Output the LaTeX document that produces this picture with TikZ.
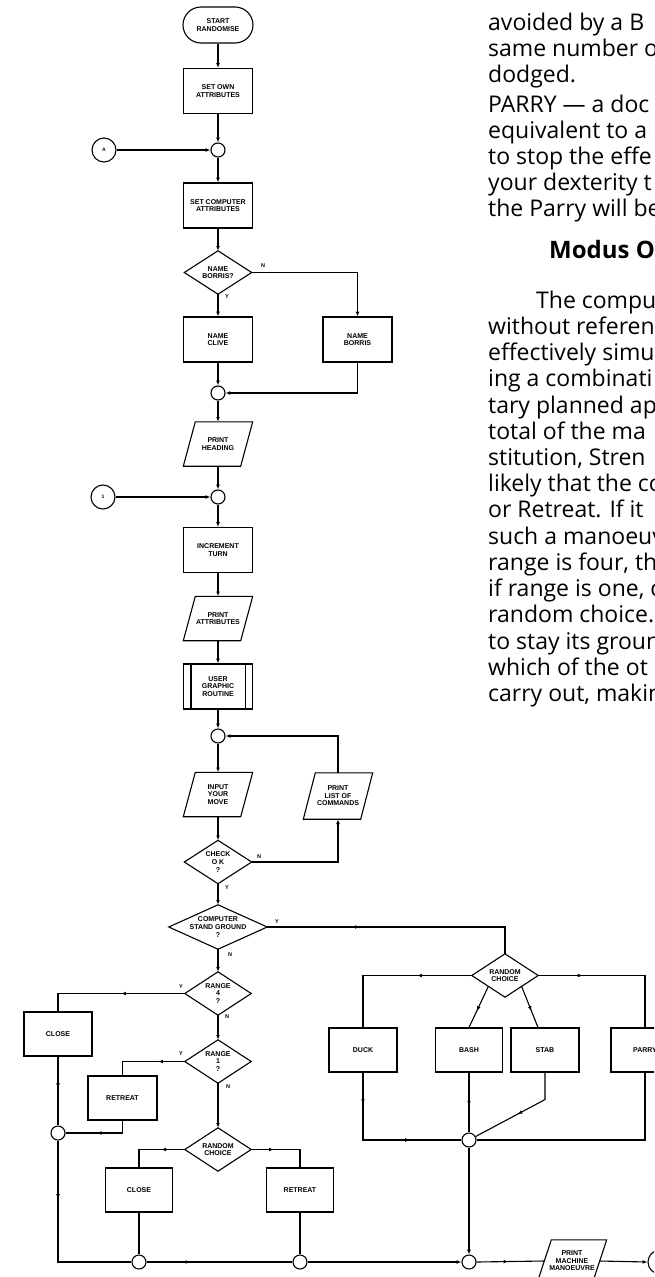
\documentclass[tikz,border=0pt]{standalone}
\usepackage{fontspec}
\setmainfont{Open Sans}
\newfontfamily\flowfam{Liberation Sans}
\usetikzlibrary{arrows.meta,decorations.markings,calc}
\tikzset{
  flow/.style={line width=1.1pt},
  arr/.style={flow,-{Latex[length=4.8pt,width=3.8pt]}},
  midarr/.style={flow,postaction={decorate},decoration={markings,mark=at position #1 with {\arrow{Latex[length=4.8pt,width=3.8pt]}}}},
  midarrtwo/.style 2 args={flow,postaction={decorate},decoration={markings,mark=at position #1 with {\arrow{Latex[length=4.8pt,width=3.8pt]}},mark=at position #2 with {\arrow{Latex[length=4.8pt,width=3.8pt]}}}},
  flowtxt/.style={font={\flowfam\bfseries\fontsize{7}{7.6}\selectfont},align=center},
  proc/.style={flowtxt,draw,line width=1.1pt,rectangle,minimum width=69pt,minimum height=45pt,inner sep=1pt},
  ghost/.style={flowtxt,rectangle,inner sep=1pt},
  dia/.style={ghost,minimum width=67pt,minimum height=43pt},
  para/.style={ghost,minimum width=57pt,minimum height=44pt},
  junc/.style={circle,draw,line width=1.1pt,minimum size=14pt,inner sep=0pt},
  conn/.style={circle,draw,line width=1.1pt,minimum size=24pt,inner sep=0pt,font={\flowfam\bfseries\fontsize{5}{5}\selectfont}},
  yn/.style={font={\flowfam\bfseries\fontsize{5.5}{5.5}\selectfont},inner sep=0pt},
  body/.style={anchor=base west,inner sep=0pt,font={\fontsize{23}{26}\selectfont}},
  head/.style={anchor=base west,inner sep=0pt,font={\bfseries\fontsize{24}{26}\selectfont}},
}
\begin{document}
\begin{tikzpicture}[x=1pt,y=-1pt]
\useasboundingbox (0,0) rectangle (654,1277);
\fill[white] (0,0) rectangle (654,1277);
\clip (0,0) rectangle (654,1277);

% ---------- nodes ----------
\node[proc,rounded corners=18pt,minimum height=36pt,minimum width=70pt] (start) at (218,25) {START\\RANDOMISE};
\node[proc] (setown) at (218,91) {SET OWN\\ATTRIBUTES};
\node[junc] (j1) at (218,150) {};
\node[conn] (ca) at (104,150) {A};
\node[proc] (setcomp) at (218,205.5) {SET COMPUTER\\ATTRIBUTES};
\node[dia] (q1) at (218,272.5) {NAME\\BORRIS?};
\node[proc] (clive) at (218,339.5) {NAME\\CLIVE};
\node[proc] (borris) at (357.5,339.5) {NAME\\BORRIS};
\node[junc] (j2) at (218,393) {};
\node[para] (headg) at (218,444) {PRINT\\HEADING};
\node[junc] (j3) at (218,497) {};
\node[conn] (c1) at (103,497) {1};
\node[proc] (incr) at (218,550) {INCREMENT\\TURN};
\node[para] (pattr) at (218,618.5) {PRINT\\ATTRIBUTES};
\node[proc] (ugr) at (218,686.5) {USER\\GRAPHIC\\ROUTINE};
\node[junc] (j4) at (218,736) {};
\node[para] (input) at (218,794.5) {INPUT\\YOUR\\MOVE};
\node[para,minimum height=46pt] (plist) at (338,796) {PRINT\\LIST OF\\COMMANDS};
\node[dia] (q2) at (218,862) {CHECK\\O K\\?};
\node[dia,minimum width=98pt,minimum height=44pt] (q3) at (218,927) {COMPUTER\\STAND GROUND\\?};
\node[dia,minimum width=66pt] (q4) at (218,993.5) {RANGE\\4\\?};
\node[dia,minimum width=66pt] (q5) at (218,1061.5) {RANGE\\1\\?};
\node[dia,minimum width=66pt] (q6) at (218,1149.5) {RANDOM\\CHOICE};
\node[proc,minimum width=68pt,minimum height=44pt] (close1) at (58,1034) {CLOSE};
\node[proc,minimum width=69pt,minimum height=44pt] (retreat1) at (122.5,1098) {RETREAT};
\node[junc] (jl) at (58,1133) {};
\node[proc,minimum width=67pt,minimum height=44pt] (close2) at (139,1190) {CLOSE};
\node[proc,minimum width=67pt,minimum height=44pt] (retreat2) at (300,1190) {RETREAT};
\node[junc] (jb1) at (139,1262) {};
\node[junc] (jb2) at (300,1262) {};
\node[junc] (jb3) at (469,1262) {};
\node[dia,minimum width=66pt] (q7) at (505,975.5) {RANDOM\\CHOICE};
\node[proc,minimum width=68pt,minimum height=44pt] (duck) at (363,1050) {DUCK};
\node[proc,minimum width=67pt,minimum height=44pt] (bash) at (469,1050) {BASH};
\node[proc,minimum width=68pt,minimum height=44pt] (stab) at (545,1050) {STAB};
\node[proc,minimum width=68pt,minimum height=44pt] (parry) at (645,1050) {PARRY};
\node[junc] (jc) at (469,1140) {};
\node[ghost,minimum width=55pt,minimum height=42pt] (pmm) at (572,1261) {PRINT\\MACHINE\\MANOEUVRE};
\node[conn] (cend) at (660,1262) {};

% ---------- shapes drawn from node frames ----------
\foreach \n in {q1,q2,q3,q4,q5,q6,q7}
  \draw[flow] (\n.north) -- (\n.east) -- (\n.south) -- (\n.west) -- cycle;
\foreach \n in {headg,pattr,input,plist}
  \draw[flow] ([xshift=-6pt]\n.south west) -- ([xshift=6pt]\n.north west) -- ([xshift=6pt]\n.north east) -- ([xshift=-6pt]\n.south east) -- cycle;
\draw[flow] ([xshift=-7pt]pmm.south west) -- ([xshift=7pt]pmm.north west) -- ([xshift=7pt]pmm.north east) -- ([xshift=-7pt]pmm.south east) -- cycle;
\draw[flow] ([xshift=8pt]ugr.north west) -- ([xshift=8pt]ugr.south west);
\draw[flow] ([xshift=-8pt]ugr.north east) -- ([xshift=-8pt]ugr.south east);

% ---------- connectors ----------
\draw[arr] (start.south) -- (setown.north);
\draw[arr] (setown.south) -- (j1.north);
\draw[arr] (ca.east) -- (j1.west);
\draw[arr] (j1.south) -- (setcomp.north);
\draw[arr] (setcomp.south) -- (q1.north);
\draw[arr] (q1.south) -- (clive.north);
\draw[arr] (q1.east) -| (borris.north);
\draw[arr] (clive.south) -- (j2.north);
\draw[arr] (borris.south) |- (j2.east);
\draw[arr] (j2.south) -- (headg.north);
\draw[arr] (headg.south) -- (j3.north);
\draw[arr] (c1.east) -- (j3.west);
\draw[arr] (j3.south) -- (incr.north);
\draw[arr] (incr.south) -- (pattr.north);
\draw[arr] (pattr.south) -- (ugr.north);
\draw[arr] (ugr.south) -- (j4.north);
\draw[arr] (plist.north) |- (j4.east);
\draw[arr] (j4.south) -- (input.north);
\draw[arr] (input.south) -- (q2.north);
\draw[arr] (q2.east) -| (plist.south);
\draw[arr] (q2.south) -- (q3.north);
\draw[midarr=0.35] (q3.east) -| (q7.north);
\draw[arr] (q3.south) -- (q4.north);
\draw[midarr=0.44] (q4.west) -| (close1.north);
\draw[arr] (q4.south) -- (q5.north);
\draw[midarr=0.35] (q5.west) -| (retreat1.north);
\draw[arr] (q5.south) -- (q6.north);
\draw[midarr=0.46] (close1.south) -- (jl.north);
\draw[midarr=0.55] (retreat1.south) |- (jl.east);
\draw[midarr=0.30] (jl.south) |- (jb1.west);
\draw[midarr=0.37] (q6.west) -| (close2.north);
\draw[midarr=0.34] (q6.east) -| (retreat2.north);
\draw[flow] (close2.south) -- (jb1.north);
\draw[flow] (retreat2.south) -- (jb2.north);
\draw[midarr=0.30] (jb1.east) -- (jb2.west);
\draw[arr] (jb2.east) -- (jb3.west);
\draw[midarr=0.34] (q7.west) -| (duck.north);
\draw[midarr=0.28] (q7.east) -| (parry.north);
\draw[midarr=0.6] ($(q7.west)!0.5!(q7.south)$) -- (bash.north);
\draw[midarr=0.6] ($(q7.east)!0.5!(q7.south)$) -- ([xshift=-7pt]stab.north);
\draw[midarrtwo={0.19}{0.69}] (duck.south) |- (jc.west);
\draw[midarr=0.56] (bash.south) -- (jc.north);
\draw[midarr=0.55] (stab.south) -- ++(0,27) -- (jc);
\draw[flow] (parry.south) |- (jc.east);
\draw[arr] (jc.south) -- (jb3.north);
\draw[midarr=0.47] (jb3.east) -- (pmm.west);
\draw[arr] (pmm.east) -- (cend.west);

% ---------- Y / N labels ----------
\node[yn] at (263,266) {N};
\node[yn] at (227,297) {Y};
\node[yn] at (259,857) {N};
\node[yn] at (227,888) {Y};
\node[yn] at (277,922) {Y};
\node[yn] at (230,955) {N};
\node[yn] at (181,987) {Y};
\node[yn] at (227,1017) {N};
\node[yn] at (181,1054) {Y};
\node[yn] at (228,1087) {N};

% ---------- running text ----------
\node[body] at (488,30) {avoided by a B};
\node[body] at (488,56) {same number o};
\node[body] at (488,82) {dodged.};
\node[body] at (488,112) {PARRY — a doc};
\node[body] at (488,138) {equivalent to a l};
\node[body] at (488,164) {to stop the effe};
\node[body] at (488,190) {your dexterity t};
\node[body] at (488,216) {the Parry will be};
\node[head] at (549,258) {Modus O};
\node[body] at (536,308) {The compu};
\node[body] at (488,334) {without referen};
\node[body] at (488,360) {effectively simu};
\node[body] at (488,386) {ing a combinati};
\node[body] at (488,413) {tary planned ap};
\node[body] at (488,439) {total of the ma};
\node[body] at (488,465) {stitution, Stren};
\node[body] at (488,491) {likely that the co};
\node[body] at (488,517) {or Retreat. If it};
\node[body] at (488,544) {such a manoeuv};
\node[body] at (488,570) {range is four, the};
\node[body] at (488,596) {if range is one, c};
\node[body] at (488,622) {random choice.};
\node[body] at (488,649) {to stay its groun};
\node[body] at (488,675) {which of the ot};
\node[body] at (488,701) {carry out, makin};
\end{tikzpicture}
\end{document}
